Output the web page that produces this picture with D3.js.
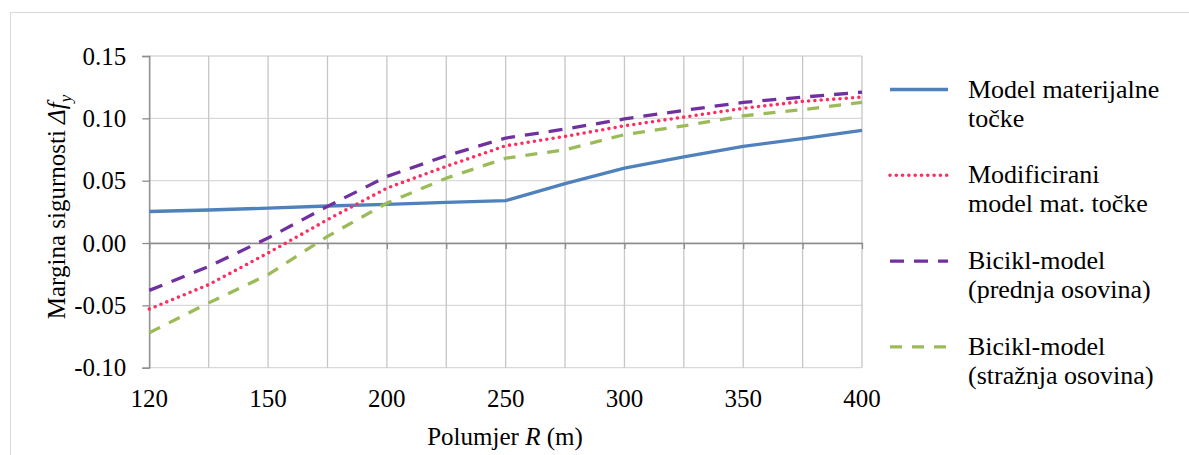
<!DOCTYPE html>
<html>
<head>
<meta charset="utf-8">
<script src="https://cdn.jsdelivr.net/npm/d3@7"></script>
</head>
<body style="margin:0">
<script>
// Podaci (procijenjeni sa slike)
var kategorije = [120, 135, 150, 175, 200, 225, 250, 275, 300, 325, 350, 375, 400];
var oznakeX = [120, 150, 200, 250, 300, 350, 400];
var oznakeY = [-0.10, -0.05, 0.00, 0.05, 0.10, 0.15];

var tocka = [0.0253, 0.0265, 0.028, 0.0297, 0.031, 0.0326, 0.034, 0.0476, 0.060, 0.069, 0.0775, 0.0837, 0.0903];
var modificirani = [-0.053, -0.0334, -0.008, 0.0187, 0.044, 0.0615, 0.078, 0.0855, 0.094, 0.101, 0.108, 0.1136, 0.117];
var prednja = [-0.038, -0.0188, 0.004, 0.0294, 0.0534, 0.070, 0.0842, 0.0914, 0.0995, 0.1064, 0.1128, 0.117, 0.121];
var straznja = [-0.072, -0.048, -0.0254, 0.0053, 0.032, 0.052, 0.068, 0.0748, 0.0869, 0.094, 0.102, 0.107, 0.1128];

var nazivi = [["Model materijalne", "točke"], ["Modificirani", "model mat. točke"],
              ["Bicikl-model", "(prednja osovina)"], ["Bicikl-model", "(stražnja osovina)"]];

var serije = [
  {ime: nazivi[0], vrijednosti: tocka, boja: "#4F81BD", crta: null, kapa: "butt", sirina: 3.3},
  {ime: nazivi[1], vrijednosti: modificirani, boja: "#FF2D5E", crta: "0,6.3", kapa: "round", sirina: 3.6},
  {ime: nazivi[2], vrijednosti: prednja, boja: "#7030A0", crta: "14,10", kapa: "butt", sirina: 3.3},
  {ime: nazivi[3], vrijednosti: straznja, boja: "#9BBB59", crta: "12,10", kapa: "butt", sirina: 3.3}
];

var width = 1189, height = 455;
var serifFont = "'Liberation Serif'";

// Skale
var xScale = d3.scalePoint().domain(kategorije).range([149.3, 862]);
var yScale = d3.scaleLinear().domain([-0.10, 0.15]).range([367.7, 56]);

var mySVG = d3.select("body").append("svg")
    .attr("width", width)
    .attr("height", height)
    .style("font-family", serifFont);

// Okvir grafa
mySVG.append("rect")
    .attr("x", 10.5).attr("y", 12.5)
    .attr("width", 1300).attr("height", 600)
    .attr("fill", "none")
    .attr("stroke", "#d9d9d9");

// Mreza
mySVG.append("g").selectAll("line")
    .data(oznakeY)
    .enter().append("line")
    .attr("x1", xScale(120)).attr("x2", xScale(400))
    .attr("y1", function(d) { return yScale(d); })
    .attr("y2", function(d) { return yScale(d); })
    .attr("stroke", "#d9d9d9")
    .attr("stroke-width", 1.3);

mySVG.append("g").selectAll("line")
    .data(kategorije)
    .enter().append("line")
    .attr("x1", function(d) { return xScale(d); })
    .attr("x2", function(d) { return xScale(d); })
    .attr("y1", yScale(0.15)).attr("y2", yScale(-0.10))
    .attr("stroke", "#c6c6c6")
    .attr("stroke-width", 1.3);

// Os Y
var yAxis = d3.axisLeft(yScale)
    .tickValues(oznakeY)
    .tickFormat(function(d) { return d.toFixed(2); })
    .tickSize(7)
    .tickPadding(16);
var yAxisGroup = mySVG.append("g")
    .attr("transform", "translate(" + xScale(120) + ",0)")
    .call(yAxis)
    .attr("font-family", null)
    .attr("font-size", null);
yAxisGroup.select(".domain").attr("stroke", "#8c8c8c").attr("stroke-width", 1.3);
yAxisGroup.selectAll(".tick line").attr("stroke", "#8c8c8c").attr("stroke-width", 1.3);
yAxisGroup.selectAll(".tick text")
    .style("font-family", serifFont)
    .style("font-size", "25px")
    .attr("fill", "#000");

// Os X na nuli
var xAxis = d3.axisBottom(xScale)
    .tickFormat("")
    .tickSize(6)
    .tickSizeOuter(0);
var xAxisGroup = mySVG.append("g")
    .attr("transform", "translate(0," + yScale(0) + ")")
    .call(xAxis);
xAxisGroup.select(".domain").attr("stroke", "#8c8c8c").attr("stroke-width", 1.3);
xAxisGroup.selectAll(".tick line").attr("stroke", "#8c8c8c").attr("stroke-width", 1.3);

// Oznake X na dnu
mySVG.append("g").selectAll("text")
    .data(oznakeX)
    .enter().append("text")
    .attr("x", function(d) { return xScale(d); })
    .attr("y", 407)
    .attr("text-anchor", "middle")
    .style("font-family", serifFont)
    .style("font-size", "25px")
    .text(function(d) { return d; });

// Linije
var linija = d3.line()
    .x(function(d, i) { return xScale(kategorije[i]); })
    .y(function(d) { return yScale(d); });

mySVG.append("g").selectAll("path")
    .data(serije)
    .enter().append("path")
    .attr("d", function(d) { return linija(d.vrijednosti); })
    .attr("fill", "none")
    .attr("stroke", function(d) { return d.boja; })
    .attr("stroke-width", function(d) { return d.sirina; })
    .attr("stroke-dasharray", function(d) { return d.crta; })
    .attr("stroke-linecap", function(d) { return d.kapa; })
    .attr("stroke-linejoin", "round");

// Naslovi osi
var yNaslov = mySVG.append("text")
    .attr("transform", "translate(65,207) rotate(-90)")
    .attr("text-anchor", "middle")
    .style("font-family", serifFont)
    .style("font-size", "25px");
yNaslov.append("tspan").text("Margina sigurnosti ");
yNaslov.append("tspan").style("font-style", "italic").text("Δf");
yNaslov.append("tspan").style("font-style", "italic").style("font-size", "17px").attr("dy", 6).text("y");

var xNaslov = mySVG.append("text")
    .attr("x", 505)
    .attr("y", 445)
    .attr("text-anchor", "middle")
    .style("font-family", serifFont)
    .style("font-size", "25px");
xNaslov.append("tspan").text("Polumjer ");
xNaslov.append("tspan").style("font-style", "italic").text("R");
xNaslov.append("tspan").text(" (m)");

// Legenda
var legenda = mySVG.append("g").selectAll("g")
    .data(serije)
    .enter().append("g")
    .attr("transform", function(d, i) { return "translate(0," + (89.5 + i * 85.8) + ")"; });

legenda.append("line")
    .attr("x1", 890).attr("x2", 948)
    .attr("y1", 0).attr("y2", 0)
    .attr("stroke", function(d) { return d.boja; })
    .attr("stroke-width", function(d) { return d.sirina; })
    .attr("stroke-dasharray", function(d) { return d.crta; })
    .attr("stroke-linecap", function(d) { return d.kapa; });

legenda.each(function(d) {
  var t = d3.select(this).append("text")
      .attr("x", 968)
      .attr("y", 8)
      .style("font-family", serifFont)
      .style("font-size", "26px");
  t.selectAll("tspan")
      .data(d.ime)
      .enter().append("tspan")
      .attr("x", 968)
      .attr("dy", function(s, j) { return j === 0 ? 0 : 29; })
      .text(function(s) { return s; });
});
</script>
</body>
</html>
